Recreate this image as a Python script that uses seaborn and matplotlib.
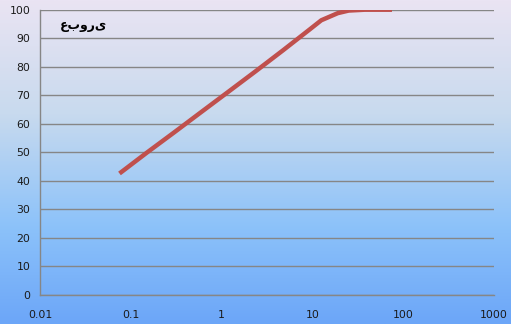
import numpy as np
import pandas as pd
import matplotlib
matplotlib.use("Agg")
import matplotlib.pyplot as plt
import seaborn as sns
from matplotlib.colors import LinearSegmentedColormap
from matplotlib.ticker import LogLocator, FixedLocator, NullFormatter

# Data
sizes = [0.075, 0.15, 0.3, 0.6, 1.18, 2.36, 4.75, 9.5, 12.5, 19, 25, 37.5, 75]
passing = [42.6, 49.9, 57.0, 64.2, 71.2, 78.4, 85.8, 93.3, 96.3, 98.8, 99.7, 100, 100]
x_ticks = [0.01, 0.1, 1, 10, 100, 1000]
x_labels = ["0.01", "0.1", "1", "10", "100", "1000"]
y_ticks = list(range(0, 101, 10))
label_text = "عبوری"

sns.set_style("white")
plt.rcParams['font.family'] = ['DejaVu Sans']

fig = plt.figure(figsize=(5.11, 3.24), dpi=100)

# gradient background
bg = fig.add_axes([0, 0, 1, 1], zorder=0)
cmap = LinearSegmentedColormap.from_list(
    "bg", [(0.0, (234/255, 228/255, 243/255)),
           (0.35, (200/255, 218/255, 238/255)),
           (0.7, (140/255, 194/255, 250/255)),
           (1.0, (108/255, 166/255, 248/255))])
grad = np.linspace(0, 1, 256).reshape(-1, 1)
bg.imshow(grad, aspect="auto", cmap=cmap, extent=[0, 1, 0, 1], origin="upper")
bg.axis("off")

ax = fig.add_axes([0.0783, 0.0895, 0.967 - 0.0783, 0.970 - 0.0895], zorder=1)
ax.patch.set_alpha(0)

df = pd.DataFrame({"size": sizes, "passing": passing})
sns.lineplot(data=df, x="size", y="passing", ax=ax, color="#C0504D",
             linewidth=3.2, solid_capstyle="butt")

ax.set_xscale("log")
ax.set_xlim(0.01, 1000)
ax.set_ylim(0, 100)
ax.xaxis.set_major_locator(FixedLocator(x_ticks))
ax.set_xticks(x_ticks)
ax.set_xticklabels(x_labels)
ax.xaxis.set_minor_locator(LogLocator(base=10, subs=np.arange(2, 10)))
ax.xaxis.set_minor_formatter(NullFormatter())
ax.set_yticks(y_ticks)
ax.set_yticklabels([str(v) for v in y_ticks])
ax.set_xlabel("")
ax.set_ylabel("")

gridc = "#868686"
ax.grid(axis="y", color=gridc, linewidth=1.0)
ax.grid(axis="x", visible=False)
ax.set_axisbelow(True)
for s in ["top", "right"]:
    ax.spines[s].set_visible(False)
for s in ["left", "bottom"]:
    ax.spines[s].set_color(gridc)
    ax.spines[s].set_linewidth(1.0)

ax.tick_params(axis="x", which="major", direction="inout", length=9,
               color=gridc, width=1, labelsize=7.8, pad=6, labelcolor="#1a1a1a")
ax.tick_params(axis="x", which="minor", direction="in", length=3,
               color=gridc, width=1)
ax.tick_params(axis="y", which="major", length=0, labelsize=7.8, pad=7,
               labelcolor="#1a1a1a")

ax.text(0.0165, 94.3, label_text, fontsize=9, fontweight="bold",
        ha="left", va="center", color="#000000")

fig.savefig("out.png", dpi=100)
